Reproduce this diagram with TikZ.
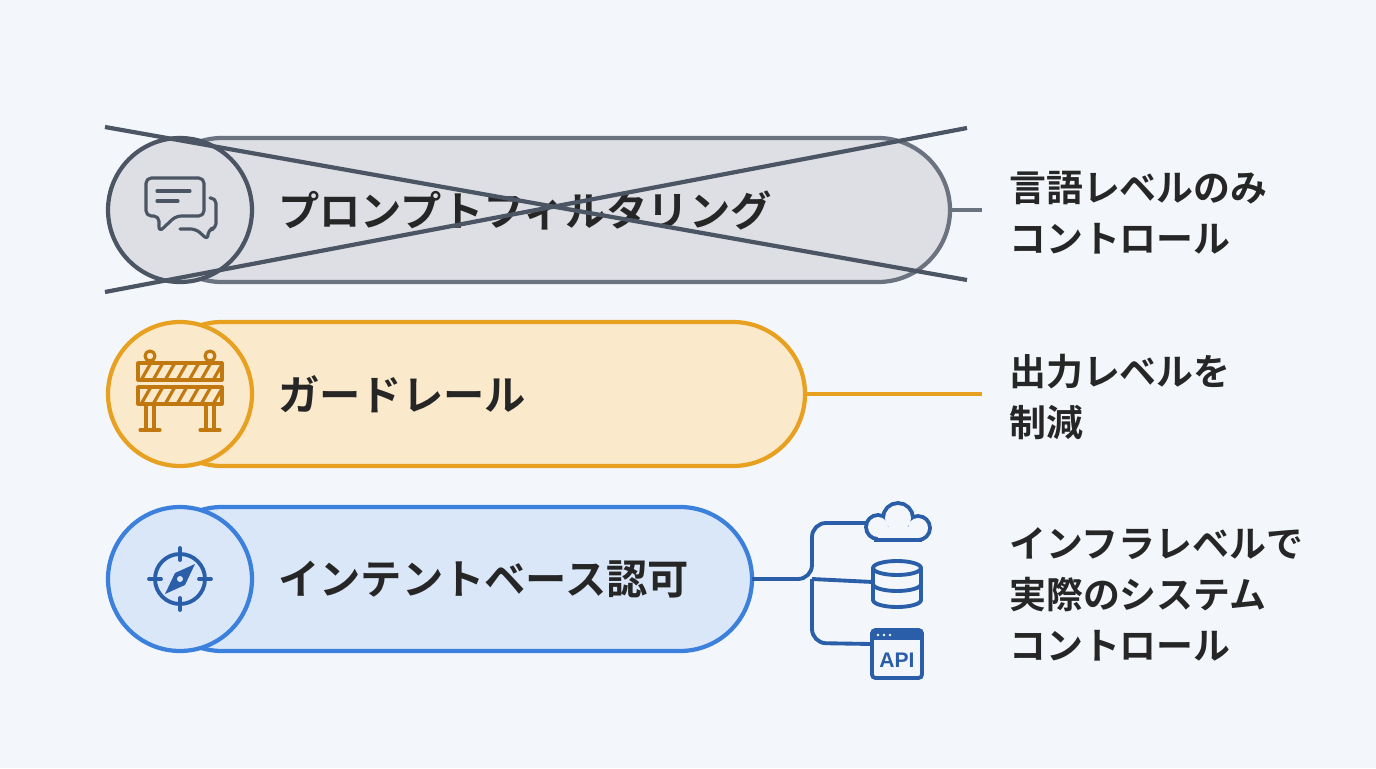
\documentclass[tikz,border=0pt]{standalone}
\usepackage{fontspec}
\setmainfont{Noto Sans CJK JP}[BoldFont={* Bold}]
\setsansfont{Liberation Sans}
\begin{document}
\begin{tikzpicture}[x=0.02cm,y=-0.02cm,
  lbl/.style={font=\fontsize{23.5}{26}\selectfont\bfseries,text=black!85,anchor=west},
  rt/.style={font=\fontsize{21}{29}\selectfont\bfseries,text=black!85,anchor=west,align=left},
  pill/.style={line width=2.4pt,rounded corners=1.44cm},
  icon/.style={line width=1.8pt,line cap=round,line join=round}]
\definecolor{bg}{HTML}{F3F7FB}
\definecolor{gs}{HTML}{6B7280}\definecolor{gf}{HTML}{DDDFE4}\definecolor{gd}{HTML}{4B5563}
\definecolor{os}{HTML}{E8A020}\definecolor{of}{HTML}{FBE9CB}\definecolor{od}{HTML}{C0780F}
\definecolor{bs}{HTML}{3B80DC}\definecolor{bf}{HTML}{DAE7F8}\definecolor{bd}{HTML}{2A5EA8}
\fill[bg] (0,0) rectangle (1376,768);
\useasboundingbox (0,0) rectangle (1376,768);
% pill 1
\draw[pill,draw=gs,fill=gf] (150,138) rectangle (950,282);
\node[circle,draw=gd,line width=2.4pt,fill=gf,minimum size=2.88cm,inner sep=0] (c1) at (180,210) {};
\node[lbl] (t1) at (272,210) {プロンプトフィルタリング};
\coordinate (e1) at (950,210); \coordinate (f1) at (982,210);
\draw[gs,line width=2.4pt] (e1) -- (f1);
\node[rt] (r1) at (1003,213) {言語レベルのみ\\コントロール};
% chat icon
\begin{scope}[icon,gd,rounded corners=3pt]
\draw (146,178) -- (204,178) -- (204,216) -- (176,216) -- (159,232) -- (159,216) -- (146,216) -- cycle;
\draw (157,191)--(190,191) (157,201)--(178,201);
\draw (210,198) -- (216,198) -- (216,229) -- (208,229) -- (208,240) -- (196,229) -- (180,229);
\end{scope}
% cross
\coordinate (x1) at (105,127); \coordinate (x2) at (967,280);
\coordinate (x3) at (105,292); \coordinate (x4) at (967,128);
\draw[gd,line width=2.4pt] (x1) -- (x2) (x3) -- (x4);
% pill 2
\draw[pill,draw=os,fill=of] (150,322) rectangle (805,466);
\node[circle,draw=os,line width=2.4pt,fill=of,minimum size=2.88cm,inner sep=0] (c2) at (180,394) {};
\node[lbl] (t2) at (272,394) {ガードレール};
\coordinate (e2) at (805,394); \coordinate (f2) at (982,394);
\draw[os,line width=2.4pt] (e2) -- (f2);
\node[rt] (r2) at (1003,397) {出力レベルを\\制減};
% barrier icon
\begin{scope}[icon,od]
\draw (150,356) circle (5) (210,356) circle (5);
\draw (150,361)--(150,363) (210,361)--(210,363);
\begin{scope}
\clip (138,363) rectangle (222,380) (138,387) rectangle (222,404);
\foreach \i in {-1,...,7}{\draw (140+\i*12,382)--(152+\i*12,361); \draw (140+\i*12,406)--(152+\i*12,385);}
\end{scope}
\draw (138,363) rectangle (222,380) (138,387) rectangle (222,404);
\draw (146,404)--(146,428) (154,404)--(154,428) (206,404)--(206,428) (214,404)--(214,428);
\draw (140,430)--(160,430) (200,430)--(220,430);
\end{scope}
% pill 3
\draw[pill,draw=bs,fill=bf] (150,507) rectangle (752,651);
\node[circle,draw=bs,line width=2.4pt,fill=bf,minimum size=2.88cm,inner sep=0] (c3) at (180,579) {};
\node[lbl] (t3) at (272,579) {インテントベース認可};
\node[rt] (r3) at (1003,594) {インフラレベルで\\実際のシステム\\コントロール};
% compass
\begin{scope}[icon,bd]
\draw[line width=2.2pt] (180,579) circle (25);
\draw[line width=2.2pt] (180,548)--(180,560) (180,598)--(180,610) (149,579)--(161,579) (199,579)--(211,579);
\fill (195,564) -- (185,585) -- (165,594) -- (175,573) -- cycle;
\fill[bf] (180,579) circle (3);
\end{scope}
% tree
\coordinate (e3) at (752,579);
\coordinate (cl) at (868,523); \coordinate (db) at (873,582); \coordinate (ap) at (872,644);
\draw[bd,line width=2.2pt,rounded corners=8pt] (e3) -- (812,579) -- (812,523) -- (cl);
\draw[bd,line width=2.2pt] (812,579) -- (db);
\draw[bd,line width=2.2pt,rounded corners=8pt] (812,579) -- (812,643) -- (ap);
% cloud
\draw[bd,line width=4.4pt] (878,527) circle (10) (898,518) circle (13) (918,528) circle (10) (878,527) rectangle (918,538);
\fill[bg] (878,527) circle (10);
\fill[bg] (898,518) circle (13);
\fill[bg] (918,528) circle (10);
\fill[bg] (878,527) rectangle (918,538);
% database
\begin{scope}[icon,bd,line width=2.2pt]
\draw (873,568) -- (873,600) arc(180:0:24 and 7) -- (921,568);
\draw (897,568) ellipse (24 and 7);
\draw (873,584) arc(180:0:24 and 7);
\end{scope}
% api
\draw[bd,line width=2.2pt,rounded corners=2pt] (872,630) rectangle (922,678);
\fill[bd] (872,630) rectangle (922,640);
\fill[white] (878,635) circle (1.3) (884,635) circle (1.3) (890,635) circle (1.3);
\node[font=\sffamily\bfseries\fontsize{12}{14}\selectfont,text=bd] (api) at (897,660) {API};
\end{tikzpicture}
\end{document}
